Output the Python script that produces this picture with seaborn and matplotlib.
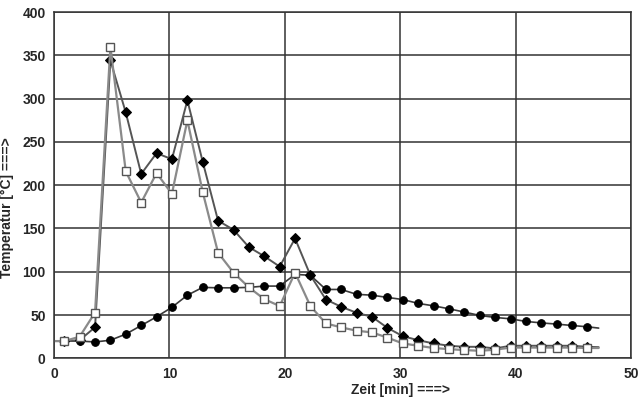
import numpy as np
import pandas as pd

import matplotlib
matplotlib.use("Agg")
import matplotlib.pyplot as plt
import seaborn as sns

# measurement times [min] (one reading every 80 s), plus line start / end
zeit = [0.0, 0.89, 2.22, 3.56, 4.89, 6.22, 7.56, 8.89, 10.22, 11.56, 12.89,
        14.22, 15.56, 16.89, 18.22, 19.56, 20.89, 22.22, 23.56, 24.89, 26.22,
        27.56, 28.89, 30.22, 31.56, 32.89, 34.22, 35.56, 36.89, 38.22, 39.56,
        40.89, 42.22, 43.56, 44.89, 46.22, 47.2]

# open squares
temp_quadrat = [20, 20, 25, 53, 360, 216, 180, 214, 190, 275, 192,
                122, 99, 82, 68.5, 60.4, 99, 60.4, 40.4, 35.8, 32,
                30, 24, 17.3, 14.6, 12, 10.7, 9.6, 8.8, 10, 12.5,
                12.5, 12.5, 12.5, 12.5, 12, 12]

# filled diamonds
temp_raute = [20, 20, 21, 36, 344, 284, 213, 237, 230, 298, 227,
              159, 148.5, 128.5, 118, 106, 138.5, 96, 68, 59.6, 52.7,
              48, 35.3, 25.7, 21, 17.3, 14.6, 13.4, 13.4, 11.5, 14.6,
              14.6, 14.6, 14.6, 14.6, 13.4, 13]

# filled circles
temp_kreis = [20, 20, 20, 19, 21, 28, 38, 48, 59, 73, 82,
              81.5, 81.5, 82, 83.5, 83.5, 97, 96, 79.6, 79.6, 74,
              73, 70.4, 68, 63.5, 60.7, 57.3, 53.5, 49.6, 47.3, 45.7,
              42.7, 41, 39.6, 38, 36.5, 35]

df = pd.DataFrame({"zeit": zeit, "quadrat": temp_quadrat,
                   "raute": temp_raute, "kreis": temp_kreis})

sns.set_style("whitegrid")
plt.rcParams['font.family'] = ['Liberation Sans', 'DejaVu Sans']

fig = plt.figure(figsize=(6.38, 4.0), dpi=100)
ax = fig.add_axes([0.0846, 0.104, 0.9044, 0.866])

marks = slice(1, len(zeit) - 1)

sns.lineplot(data=df, x="zeit", y="kreis", ax=ax, sort=False, estimator=None,
             color="#3a3a3a", linewidth=1.2, marker="o", markersize=5.5,
             markerfacecolor="black", markeredgecolor="black", markevery=marks)
sns.lineplot(data=df, x="zeit", y="raute", ax=ax, sort=False, estimator=None,
             color="#555555", linewidth=1.4, marker="D", markersize=5.2,
             markerfacecolor="black", markeredgecolor="black", markevery=marks)
sns.lineplot(data=df, x="zeit", y="quadrat", ax=ax, sort=False, estimator=None,
             color="#8a8a8a", linewidth=1.6, marker="s", markersize=5.8,
             markerfacecolor="white", markeredgecolor="#555555",
             markeredgewidth=1.0, markevery=marks)

ax.set_xlim(0, 50)
ax.set_ylim(0, 400)
ax.set_xticks(np.arange(0, 51, 10))
ax.set_yticks(np.arange(0, 401, 50))
ax.grid(True, color="#333333", linewidth=1.1)
for s in ax.spines.values():
    s.set_color("#333333")
    s.set_linewidth(1.1)

ax.tick_params(axis="both", labelsize=10, length=3, color="#333333", pad=3)
for lab in ax.get_xticklabels() + ax.get_yticklabels():
    lab.set_fontweight("bold")

ax.set_xlabel("Zeit [min] ===>", fontsize=10, fontweight="bold")
ax.set_ylabel("Temperatur [°C] ===>", fontsize=10, fontweight="bold")
ax.xaxis.set_label_coords(0.60, -0.072)
ax.yaxis.set_label_coords(-0.069, 0.434)

fig.savefig("out.png", dpi=100)
